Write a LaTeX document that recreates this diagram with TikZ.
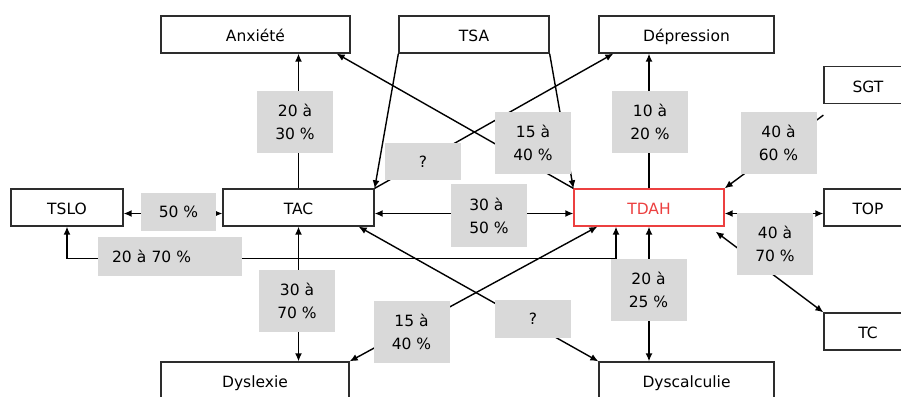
\documentclass[tikz,border=0pt]{standalone}
\usepackage{fontspec}
\setmainfont{DejaVu Sans}
\usetikzlibrary{arrows.meta,positioning}

\definecolor{grigio}{RGB}{217,217,217}
\definecolor{rosso}{RGB}{236,64,64}
\definecolor{bordo}{RGB}{45,45,45}

\begin{document}
\begin{tikzpicture}[x=1pt,y=-1pt,line width=1.4pt,
		>={Latex[length=8pt,width=7pt]},
		box/.style={draw=bordo,line width=1.3pt,fill=white,minimum height=37pt,
			inner sep=0pt,text height=14pt,text depth=0pt,
			font=\fontsize{15.5}{23}\selectfont},
		perc/.style={fill=grigio,minimum width=76pt,minimum height=62pt,
			inner sep=0pt,align=center,font=\fontsize{15.5}{23}\selectfont}]
		\clip (0,0) rectangle (901,396);
		\def\riga{207.5}
		\def\dy{-6pt}
		% disturbi
		\node[box,minimum width=189pt] (anx) at (255.5,34.5) {Anxiété};
		\node[box,minimum width=150pt] (tsa) at (474,34.5) {TSA};
		\node[box,minimum width=175pt] (dep) at (686.5,34.5) {Dépression};
		\node[box,minimum width=88pt] (sgt) at (868,85) {SGT};
		\node[box,minimum width=112pt] (tslo) at (67,\riga) {TSLO};
		\node[box,minimum width=151pt] (tac) at (298.5,\riga) {TAC};
		\node[box,minimum width=150pt,draw=rosso,text=rosso] (tdah) at (649,\riga) {TDAH};
		\node[box,minimum width=88pt] (top) at (868,\riga) {TOP};
		\node[box,minimum width=88pt] (tc) at (868,331.5) {TC};
		\node[box,minimum width=188pt] (dysl) at (255,380.5) {Dyslexie};
		\node[box,minimum width=175pt] (dysc) at (686.5,380.5) {Dyscalculie};
		% collegamenti in alto
		\draw[->] (tac.north) -- (tac.north |- anx.south);
		\draw[->] (tsa.south west) -- (tac.north east);
		\draw[->] (tsa.south east) -- (tdah.north west);
		\draw[->] (tdah.north west) -- ([xshift=-14pt]anx.south east);
		\draw[->] (tac.north east) -- ([xshift=15pt]dep.south west);
		\draw[->] (tdah.north) -- (tdah.north |- dep.south);
		\coordinate (sgtb) at ([yshift=-11pt]sgt.south west);
		\draw[->] (sgtb) -- (tdah.north east);
		% orizzontali
		\draw[<->] ([yshift=\dy]tslo.east) -- ([yshift=\dy]tac.west);
		\draw[<->] ([yshift=\dy]tac.east) -- ([yshift=\dy]tdah.west);
		\draw[<->] ([yshift=\dy]tdah.east) -- ([yshift=\dy]top.west);
		\draw[<->] ([xshift=-33pt]tdah.south) -- ++(0,32) -| (tslo.south);
		% collegamenti in basso
		\draw[<->] (tac.south) -- (tac.south |- dysl.north);
		\draw[<->] (dysl.north east) -- ([xshift=24pt]tdah.south west);
		\draw[<->] ([xshift=-16pt]tac.south east) -- (dysc.north west);
		\draw[<->] (tdah.south) -- (tdah.south |- dysc.north);
		\draw[<->] ([xshift=-9pt,yshift=-5pt]tdah.south east) -- (tc.north west);
		% percentuali
		\node[perc] (p1) at (295,121.5) {20 à\\30 \%};
		\node[perc,minimum height=37pt] (q1) at (423,161.5) {?};
		\node[perc] (p2) at (533,142.5) {15 à\\40 \%};
		\node[perc] (p3) at (650,121.5) {10 à\\20 \%};
		\node[perc] (p4) at (778.5,142.5) {40 à\\60 \%};
		\node[perc,minimum width=75pt,minimum height=38pt] (p5) at (178.5,212) {50 \%};
		\node[perc,minimum height=39pt,text width=116pt,inner xsep=14pt,align=left] (p6) at (170,256.5) {20 à 70 \%};
		\node[perc,minimum height=63pt,align=left] (p7) at (489,215.5) {30 à\\50 \%};
		\node[perc] (p8) at (297,301) {30 à\\70 \%};
		\node[perc] (p9) at (411.5,331.5) {15 à\\40 \%};
		\node[perc,minimum height=38pt] (q2) at (533,319) {?};
		\node[perc] (p10) at (648.5,289.5) {20 à\\25 \%};
		\node[perc] (p11) at (775,244) {40 à\\70 \%};
	\end{tikzpicture}
\end{document}
